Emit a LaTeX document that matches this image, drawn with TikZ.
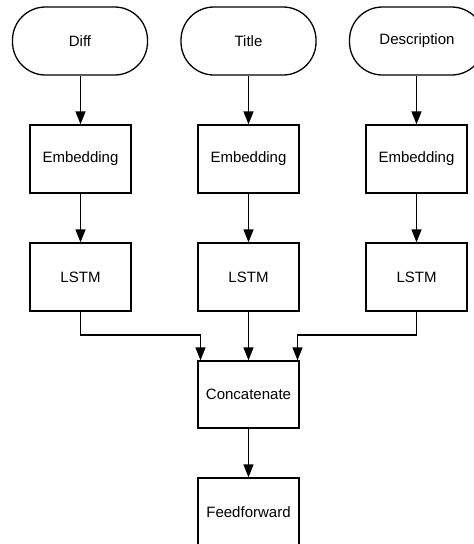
\documentclass[tikz,border=0pt]{standalone}
\usepackage{fontspec}
\setmainfont{Liberation Sans}
\usetikzlibrary{arrows.meta,calc}
\begin{document}
\begin{tikzpicture}[x=1pt,y=1pt,
  every node/.style={font=\fontsize{15}{18}\selectfont, inner sep=0pt},
  pill/.style={draw, line width=1.3pt, rounded corners=33pt, minimum width=135pt, minimum height=68pt},
  blk/.style={draw, line width=1.3pt, minimum width=101pt, minimum height=68pt},
  conn/.style={line width=1.3pt, -{Triangle[length=13pt,width=10pt]}}]
\clip (0,0) rectangle (474,-544);
\fill[white] (0,0) rectangle (474,-544);
\node[pill] (in1) at (80,-41) {Diff};
\node[pill] (in2) at (248.5,-41) {Title};
\node[pill] (in3) at (417,-41) {Description};
\node[blk] (e1) at (80.5,-159) {Embedding};
\node[blk] (e2) at (248.5,-159) {Embedding};
\node[blk] (e3) at (416.5,-159) {Embedding};
\node[blk] (l1) at (80.5,-277) {LSTM};
\node[blk] (l2) at (248.5,-277) {LSTM};
\node[blk] (l3) at (416.5,-277) {LSTM};
\node[blk, minimum height=67pt] (cc) at (248.5,-394.5) {Concatenate};
\node[blk] (ff) at (248.5,-512) {Feedforward};
\foreach \i in {1,2,3} {
  \draw[conn] (in\i.south -| e\i) -- (e\i);
  \draw[conn] (e\i) -- (l\i);
}
\coordinate (ja) at (200.5,-335);
\coordinate (jb) at (297.5,-335);
\draw[conn] (l1.south) |- (ja) -- (ja |- cc.north);
\draw[conn] (l2) -- (cc);
\draw[conn] (l3.south) |- (jb) -- (jb |- cc.north);
\draw[conn] (cc) -- (ff);
\end{tikzpicture}
\end{document}
